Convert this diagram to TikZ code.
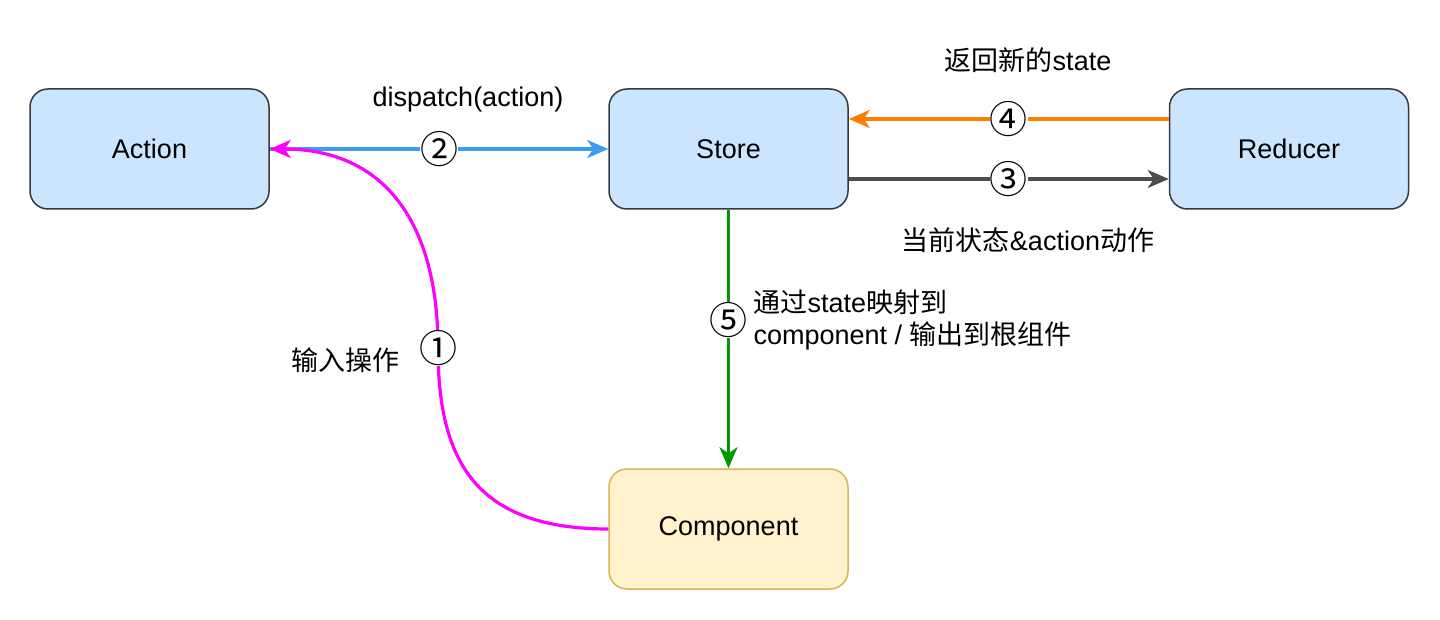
\documentclass[tikz,border=0pt]{standalone}
\usepackage{fontspec}
\setmainfont{Liberation Sans}
\newfontfamily\cjk{Noto Sans CJK SC}
\usetikzlibrary{arrows.meta}
\definecolor{boxblue}{HTML}{CCE5FF}
\definecolor{boxline}{HTML}{36393D}
\definecolor{compfill}{HTML}{FFF2CC}
\definecolor{compline}{HTML}{D6B656}
\definecolor{dispblue}{HTML}{3D9BF0}
\definecolor{backorange}{HTML}{FF8000}
\definecolor{sendgray}{HTML}{4D4D4D}
\definecolor{mapgreen}{HTML}{009900}
\definecolor{inmagenta}{HTML}{FF00FF}
\tikzstyle{box} = [draw=boxline, fill=boxblue, rounded corners=18pt, line width=1.5pt, minimum width=239pt, minimum height=120pt, font=\fontsize{27}{32}\selectfont]
\tikzstyle{comp} = [box, draw=compline, fill=compfill]
\tikzstyle{link} = [line width=3.2pt, -{Stealth[length=21pt,width=18pt,inset=6pt]}]
\tikzstyle{num} = [fill=white, text=black, inner sep=0pt, font=\cjk\fontsize{38}{42}\selectfont]
\tikzstyle{txt} = [font=\fontsize{27}{32}\selectfont]

\begin{document}
\begin{tikzpicture}[x=1pt,y=-1pt]
    \useasboundingbox (0,0) rectangle (1440,620);
    \node[box](act) at (149.5,149){Action};
    \node[box](st) at (728.5,149){Store};
    \node[box](red) at (1289,149){Reducer};
    \node[comp](cmp) at (728.5,529){Component};
    \coordinate (bend) at (438,348);
    % dispatch
    \draw[link,dispblue](act.east)--node[num]{②}(st.west);
    \node[txt] at (468,100){dispatch(action)};
    % input
    \draw[link,inmagenta](cmp.west) .. controls +(-135,0) and +(0,110) .. (bend)
        .. controls +(0,-125) and +(115,0) .. (act.east);
    \node[num] at (bend){①};
    \node[txt] at (345,360){\cjk 输入操作};
    % store -> reducer
    \draw[link,sendgray]([yshift=-30pt]st.east)--node[num]{③}([yshift=-30pt]red.west);
    \node[txt] at (1028,240){{\cjk 当前状态}\&action{\cjk 动作}};
    % reducer -> store
    \draw[link,backorange]([yshift=30pt]red.west)--node[num]{④}([yshift=30pt]st.east);
    \node[txt] at (1028,60){{\cjk 返回新的}state};
    % store -> component
    \draw[link,mapgreen](st.south)--(cmp.north);
    \node[num] at (728.5,320){⑤};
    \node[txt,anchor=west,align=left] at (750,320){{\cjk 通过}state{\cjk 映射到}\\component / {\cjk 输出到根组件}};
  \end{tikzpicture}
\end{document}
